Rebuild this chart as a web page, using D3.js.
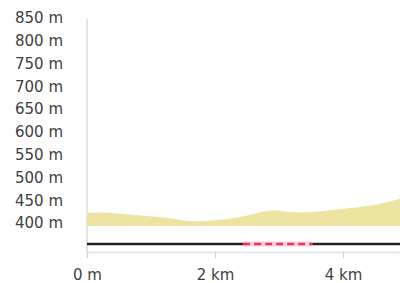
<!DOCTYPE html>
<html>
<head>
<meta charset="utf-8">
<script src="https://cdn.jsdelivr.net/npm/d3@7"></script>
<style>
  body { margin: 0; background: #fff; }
  svg text { font-family: "DejaVu Sans", sans-serif; }
</style>
</head>
<body>
<svg width="400" height="283"></svg>
<script>
// elevation profile, km -> metres
const distKm = [0, 0.2, 0.47, 0.98, 1.38, 1.67, 2.0, 2.31, 2.55, 2.78, 2.94, 3.17, 3.33, 3.8, 4.27, 4.58, 4.89];
const elevM  = [422, 423, 421, 415, 409, 404, 406, 411, 418, 426, 428, 424, 423, 428, 435, 442, 453];
const elevTicks = [400, 450, 500, 550, 600, 650, 700, 750, 800, 850];
const distTicks = [0, 2, 4];
// section drawn as dashed red on the track bar
const dashedSection = [2.44, 3.52];

let svg = d3.select('svg');

let x = d3.scaleLinear().domain([0, 4.89]).range([87, 400]);
let y = d3.scaleLinear().domain([400, 850]).range([223, 18]);
let base = y.invert(226);

let profile = distKm.map((d, i) => [d, elevM[i]]);

// vertical guide line
svg.append('line')
    .attr('x1', x(0)).attr('x2', x(0))
    .attr('y1', 19).attr('y2', 252)
    .attr('stroke', '#dadada')
    .attr('stroke-width', 1.5);

// elevation area
let area = d3.area()
    .curve(d3.curveMonotoneX)
    .x(d => x(d[0]))
    .y0(y(base))
    .y1(d => y(d[1]));

svg.append('path')
    .datum(profile)
    .attr('d', area)
    .attr('fill', '#eee4a2');

// y axis labels
svg.append('g')
    .attr('transform', 'translate(63,0)')
    .call(d3.axisLeft(y).tickValues(elevTicks).tickSize(0).tickPadding(0).tickFormat(d => d + ' m'))
    .call(g => g.select('.domain').remove())
    .selectAll('text')
    .attr('font-size', 15)
    .attr('fill', '#404040');

// track bar
let trackY = 244;
svg.append('line')
    .attr('x1', x(0)).attr('x2', 400)
    .attr('y1', trackY).attr('y2', trackY)
    .attr('stroke', '#222')
    .attr('stroke-width', 2.5);

svg.append('line')
    .attr('x1', x(dashedSection[0])).attr('x2', x(dashedSection[1]))
    .attr('y1', trackY).attr('y2', trackY)
    .attr('stroke', '#fbd3dc')
    .attr('stroke-width', 5);

svg.append('line')
    .attr('x1', x(dashedSection[0])).attr('x2', x(dashedSection[1]))
    .attr('y1', trackY).attr('y2', trackY)
    .attr('stroke', '#ef2f55')
    .attr('stroke-width', 2.5)
    .attr('stroke-dasharray', '7,4');

// x axis
let xAxis = svg.append('g')
    .attr('transform', 'translate(0,252)')
    .call(d3.axisBottom(x).tickValues(distTicks).tickSize(6).tickPadding(11)
        .tickFormat(d => d === 0 ? '0 m' : d + ' km'));

xAxis.select('.domain')
    .attr('stroke', '#dfe1f0')
    .attr('stroke-width', 1.5);
xAxis.selectAll('.tick line')
    .attr('stroke', '#d0d0d0');
xAxis.selectAll('text')
    .attr('font-size', 15)
    .attr('fill', '#404040');
</script>
</body>
</html>
